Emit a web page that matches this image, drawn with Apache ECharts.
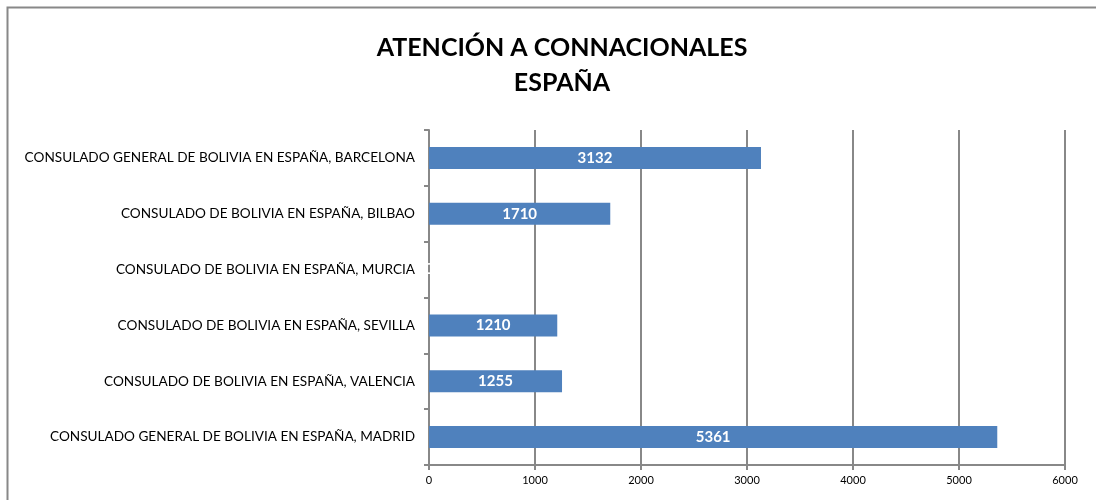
<!DOCTYPE html>
<html><head><meta charset="utf-8">
<script src="https://cdn.jsdelivr.net/npm/echarts@6/dist/echarts.min.js"></script>
<style>html,body{margin:0;padding:0;background:#fff}#c{width:1096px;height:500px}</style>
</head><body><div id="c"></div>
<script>
const titleLines = ["ATENCIÓN A CONNACIONALES", "ESPAÑA"];
const categories = [
  "CONSULADO GENERAL DE BOLIVIA EN ESPAÑA, BARCELONA",
  "CONSULADO DE BOLIVIA EN ESPAÑA, BILBAO",
  "CONSULADO DE BOLIVIA EN ESPAÑA, MURCIA",
  "CONSULADO DE BOLIVIA EN ESPAÑA, SEVILLA",
  "CONSULADO DE BOLIVIA EN ESPAÑA, VALENCIA",
  "CONSULADO GENERAL DE BOLIVIA EN ESPAÑA, MADRID"
];
const values = [3132, 1710, 0, 1210, 1255, 5361];
const xTicks = [0, 1000, 2000, 3000, 4000, 5000, 6000];

const chart = echarts.init(document.getElementById('c'));
const font = 'Lato, "Open Sans", sans-serif';
chart.setOption({
  animation: false,
  graphic: [{
    type: 'rect', shape: {x: 7.5, y: 7.5, width: 1100, height: 500},
    style: {fill: 'none', stroke: '#888', lineWidth: 2}, silent: true
  }],
  title: {
    text: titleLines.join('\n'), left: 557, top: 25, textAlign: 'center',
    textStyle: {fontFamily: font, fontWeight: 'bold', fontSize: 25, color: '#000', lineHeight: 35}
  },
  grid: {left: 429, right: 31, top: 130, bottom: 35, containLabel: false},
  xAxis: {
    type: 'value', min: xTicks[0], max: xTicks[xTicks.length - 1], interval: 1000,
    axisLine: {show: true, lineStyle: {color: '#888', width: 2}},
    axisTick: {show: true, length: 5, lineStyle: {color: '#888', width: 2}},
    splitLine: {show: true, lineStyle: {color: '#888', width: 2}},
    axisLabel: {fontFamily: font, fontSize: 11, color: '#000', margin: 10, formatter: v => String(v)}
  },
  yAxis: {
    type: 'category', data: categories, inverse: true,
    axisLine: {show: true, lineStyle: {color: '#888', width: 2}},
    axisTick: {show: true, length: 5, lineStyle: {color: '#888', width: 2}},
    axisLabel: {fontFamily: font, fontSize: 13.6, color: '#000', margin: 14}
  },
  series: [{
    type: 'bar', data: values, barWidth: 22,
    itemStyle: {color: '#4F81BD'},
    label: {show: true, position: 'inside', color: '#fff', fontFamily: font, fontWeight: 'bold', fontSize: 15}
  }]
});
</script></body></html>
